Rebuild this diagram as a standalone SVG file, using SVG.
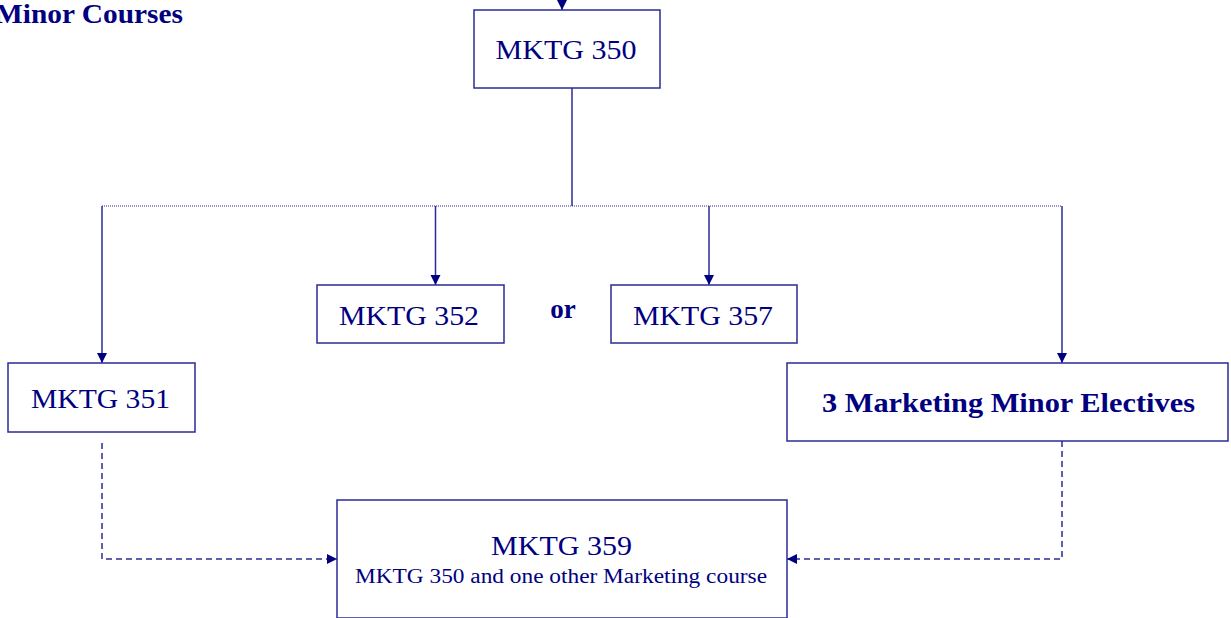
<svg xmlns="http://www.w3.org/2000/svg" width="1231" height="618" viewBox="0 0 1231 618">
  <defs>
    <marker id="arr" viewBox="0 0 10 10" refX="10" refY="5" markerWidth="10" markerHeight="11" markerUnits="userSpaceOnUse" orient="auto">
      <path d="M0,0 L10,5 L0,10 Z" fill="#000080"/>
    </marker>
    <style>
      .box { fill: #ffffff; stroke: #2b2b99; stroke-width: 1.5; }
      .lbl { font-family: "Liberation Serif", "Times New Roman", serif; fill: #000080; text-anchor: middle; }
      .big { font-size: 28px; }
      .bold { font-weight: bold; }
      .sub { font-size: 20px; }
      .solid { fill: none; stroke: #2b2b99; stroke-width: 1.5; }
      .dotted { fill: none; stroke: #2b2b99; stroke-width: 1; stroke-dasharray: 1 1; }
      .dashed { fill: none; stroke: #2b2b99; stroke-width: 1.5; stroke-dasharray: 6 4; }
    </style>
  </defs>
  <rect width="1231" height="618" fill="#ffffff"/>

  <text class="lbl bold" x="-5" y="23" font-size="27" style="text-anchor:start" textLength="188" lengthAdjust="spacingAndGlyphs">Minor Courses</text>

  <g id="connectors">
    <line class="solid" x1="562" y1="0" x2="562" y2="10" marker-end="url(#arr)"/>
    <line class="solid" x1="572" y1="88" x2="572" y2="206"/>
    <line class="dotted" x1="102" y1="206" x2="1062" y2="206"/>
    <line class="solid" x1="102" y1="206" x2="102" y2="363" marker-end="url(#arr)"/>
    <line class="solid" x1="435.5" y1="206" x2="435.5" y2="285" marker-end="url(#arr)"/>
    <line class="solid" x1="709" y1="206" x2="709" y2="285" marker-end="url(#arr)"/>
    <line class="solid" x1="1062" y1="206" x2="1062" y2="363" marker-end="url(#arr)"/>
    <polyline class="dashed" points="102,443 102,559 337,559" marker-end="url(#arr)"/>
    <polyline class="dashed" points="1062,441 1062,559 787,559" marker-end="url(#arr)"/>
  </g>

  <g id="mktg350">
    <rect class="box" x="474" y="10" width="186" height="78"/>
    <text class="lbl big" x="566" y="59" textLength="141" lengthAdjust="spacingAndGlyphs">MKTG 350</text>
  </g>

  <g id="mktg352">
    <rect class="box" x="317" y="285" width="187" height="58"/>
    <text class="lbl big" x="409" y="325" textLength="140" lengthAdjust="spacingAndGlyphs">MKTG 352</text>
  </g>

  <text class="lbl bold" x="563" y="318" font-size="27">or</text>

  <g id="mktg357">
    <rect class="box" x="611" y="285" width="186" height="58"/>
    <text class="lbl big" x="703" y="325" textLength="140" lengthAdjust="spacingAndGlyphs">MKTG 357</text>
  </g>

  <g id="mktg351">
    <rect class="box" x="8" y="363" width="187" height="69"/>
    <text class="lbl big" x="100.5" y="408" textLength="139" lengthAdjust="spacingAndGlyphs">MKTG 351</text>
  </g>

  <g id="electives">
    <rect class="box" x="787" y="363" width="441" height="78"/>
    <text class="lbl big bold" x="1008.5" y="412" textLength="373" lengthAdjust="spacingAndGlyphs">3 Marketing Minor Electives</text>
  </g>

  <g id="mktg359">
    <rect class="box" x="337" y="500" width="450" height="118"/>
    <text class="lbl big" x="561.5" y="555" textLength="141" lengthAdjust="spacingAndGlyphs">MKTG 359</text>
    <text class="lbl sub" x="561" y="583" textLength="412" lengthAdjust="spacingAndGlyphs">MKTG 350 and one other Marketing course</text>
  </g>
</svg>
